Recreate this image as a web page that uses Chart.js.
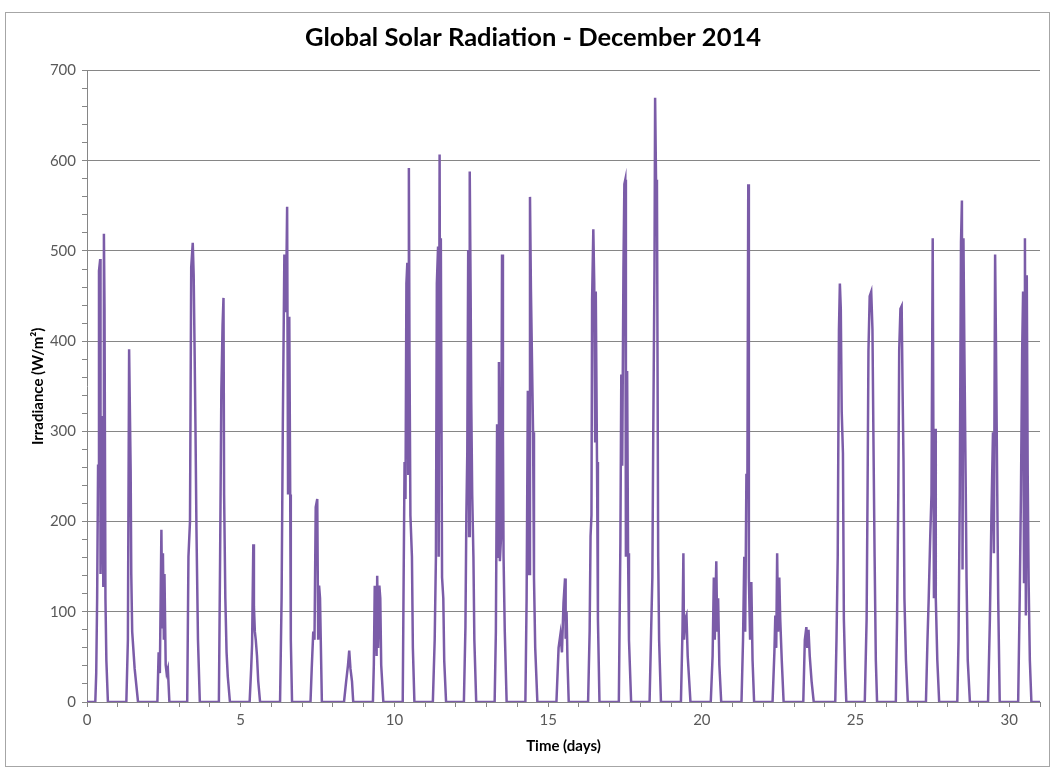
<!DOCTYPE html>
<html>
<head>
<meta charset="utf-8">
<script src="https://cdn.jsdelivr.net/npm/chart.js@4.4.1/dist/chart.umd.min.js"></script>
<style>
  html, body { margin: 0; padding: 0; background: #fff; }
  #wrap { width: 1058px; height: 771px; position: relative; }
</style>
</head>
<body>
<div id="wrap"><canvas id="myChart" width="1058" height="771"></canvas></div>
<script>
// time in days since 1 Dec 2014, one line per day
const times = [
  0,
  0.27, 0.30, 0.33, 0.36, 0.39, 0.43, 0.44, 0.49, 0.53, 0.55, 0.57, 0.60, 0.63, 0.68,
  1.28, 1.33, 1.37, 1.42, 1.44, 1.47, 1.55, 1.66,
  2.29, 2.33, 2.37, 2.42, 2.45, 2.47, 2.50, 2.52, 2.56, 2.59, 2.63, 2.68,
  3.26, 3.30, 3.35, 3.39, 3.44, 3.47, 3.50, 3.53, 3.56, 3.61, 3.67,
  4.29, 4.33, 4.37, 4.41, 4.44, 4.46, 4.50, 4.54, 4.58, 4.65,
  5.29, 5.34, 5.37, 5.41, 5.43, 5.46, 5.49, 5.53, 5.57, 5.63,
  6.28, 6.33, 6.37, 6.42, 6.47, 6.51, 6.54, 6.58, 6.61, 6.63, 6.67,
  7.27, 7.31, 7.36, 7.40, 7.44, 7.49, 7.52, 7.55, 7.58, 7.64,
  8.36, 8.43, 8.49, 8.53, 8.57, 8.62, 8.66,
  9.30, 9.33, 9.36, 9.39, 9.42, 9.44, 9.47, 9.51, 9.54, 9.57, 9.64,
  10.27, 10.30, 10.33, 10.36, 10.39, 10.42, 10.45, 10.47, 10.49, 10.52, 10.57, 10.60, 10.65,
  11.25, 11.31, 11.35, 11.38, 11.42, 11.44, 11.47, 11.49, 11.51, 11.55, 11.59, 11.62, 11.68,
  12.26, 12.31, 12.34, 12.37, 12.40, 12.43, 12.45, 12.48, 12.50, 12.53, 12.57, 12.60, 12.66,
  13.26, 13.30, 13.34, 13.37, 13.40, 13.43, 13.47, 13.50, 13.53, 13.55, 13.59, 13.65,
  14.26, 14.30, 14.34, 14.38, 14.41, 14.44, 14.47, 14.51, 14.54, 14.58, 14.65,
  15.27, 15.34, 15.40, 15.45, 15.50, 15.55, 15.57, 15.60, 15.63, 15.67,
  16.30, 16.35, 16.38, 16.41, 16.43, 16.47, 16.50, 16.53, 16.55, 16.59, 16.62, 16.67,
  17.30, 17.35, 17.38, 17.41, 17.45, 17.48, 17.51, 17.53, 17.57, 17.60, 17.63, 17.70,
  18.30, 18.35, 18.39, 18.42, 18.46, 18.48, 18.51, 18.54, 18.58, 18.61, 18.67,
  19.32, 19.37, 19.40, 19.42, 19.46, 19.50, 19.54, 19.59, 19.63,
  20.29, 20.35, 20.39, 20.42, 20.47, 20.50, 20.53, 20.57, 20.63,
  21.29, 21.34, 21.38, 21.41, 21.45, 21.48, 21.51, 21.53, 21.57, 21.61, 21.65, 21.70,
  22.30, 22.36, 22.39, 22.42, 22.45, 22.48, 22.52, 22.55, 22.60, 22.66,
  23.30, 23.35, 23.40, 23.43, 23.47, 23.51, 23.57, 23.64,
  24.34, 24.38, 24.42, 24.46, 24.49, 24.52, 24.55, 24.59, 24.62, 24.66, 24.70,
  25.30, 25.36, 25.39, 25.42, 25.46, 25.51, 25.55, 25.58, 25.62, 25.66, 25.70,
  26.31, 26.35, 26.39, 26.42, 26.46, 26.50, 26.53, 26.56, 26.59, 26.64, 26.70,
  27.29, 27.34, 27.38, 27.43, 27.47, 27.51, 27.55, 27.59, 27.61, 27.66, 27.72,
  28.31, 28.35, 28.39, 28.43, 28.46, 28.48, 28.51, 28.54, 28.58, 28.61, 28.65, 28.72,
  29.31, 29.37, 29.42, 29.47, 29.50, 29.54, 29.57, 29.61, 29.64, 29.69,
  30.29, 30.34, 30.38, 30.42, 30.45, 30.48, 30.51, 30.54, 30.57, 30.60, 30.63, 30.67, 30.72,
  31
];

// global irradiance, W/m2
const irradiance = [
  0,
  0, 32, 115, 262, 478, 491, 142, 317, 129, 519, 436, 115, 46, 0,
  0, 69, 391, 257, 142, 78, 37, 0,
  0, 55, 32, 191, 83, 165, 69, 142, 41, 32, 37, 0,
  0, 161, 200, 482, 509, 473, 390, 299, 193, 69, 0,
  0, 161, 345, 418, 448, 230, 115, 55, 28, 0,
  0, 37, 64, 175, 106, 78, 69, 51, 23, 0,
  0, 115, 308, 496, 432, 549, 230, 427, 230, 69, 0,
  0, 37, 78, 69, 216, 225, 69, 129, 115, 0,
  0, 23, 41, 57, 37, 23, 0,
  0, 41, 129, 119, 51, 140, 60, 129, 115, 41, 0,
  0, 138, 266, 225, 464, 487, 253, 592, 390, 207, 161, 60, 0,
  0, 69, 161, 464, 505, 161, 607, 299, 514, 138, 115, 46, 0,
  0, 83, 207, 276, 501, 184, 588, 450, 331, 230, 161, 69, 0,
  0, 78, 308, 161, 377, 156, 184, 496, 299, 161, 78, 0,
  0, 115, 345, 142, 560, 459, 390, 299, 138, 60, 0,
  0, 60, 75, 55, 110, 137, 70, 100, 45, 0,
  0, 78, 184, 207, 446, 524, 464, 289, 455, 266, 92, 0,
  0, 175, 363, 262, 482, 574, 579, 161, 367, 165, 69, 0,
  0, 78, 138, 299, 482, 670, 579, 574, 161, 69, 0,
  0, 78, 165, 69, 92, 96, 51, 23, 0,
  0, 51, 138, 69, 156, 78, 115, 41, 0,
  0, 69, 161, 78, 253, 230, 574, 138, 69, 133, 46, 0,
  0, 55, 96, 60, 165, 78, 138, 92, 46, 0,
  0, 69, 83, 60, 80, 51, 23, 0,
  0, 69, 161, 413, 464, 436, 322, 276, 92, 37, 0,
  0, 92, 230, 390, 450, 455, 413, 299, 161, 46, 0,
  0, 92, 230, 390, 436, 439, 345, 266, 115, 46, 0,
  0, 69, 115, 184, 230, 514, 115, 303, 115, 46, 0,
  0, 69, 230, 510, 556, 147, 514, 390, 253, 138, 46, 0,
  0, 92, 207, 299, 165, 496, 390, 230, 115, 0,
  0, 115, 230, 390, 455, 133, 514, 96, 473, 253, 133, 46, 0,
  0
];

const xMajorTicks = [0, 5, 10, 15, 20, 25, 30];
const yMajorTicks = [0, 100, 200, 300, 400, 500, 600, 700];

const FONT = "Lato, 'Open Sans', sans-serif";
const AXIS_GREY = "#868686";

const points = times.map((t, i) => ({ x: t, y: irradiance[i] }));

// outer frame like the Excel chart border
const framePlugin = {
  id: "frame",
  beforeDraw: (chart) => {
    const { ctx } = chart;
    ctx.save();
    ctx.fillStyle = "#ffffff";
    ctx.fillRect(0, 0, chart.width, chart.height);
    ctx.strokeStyle = "#a6a6a6";
    ctx.lineWidth = 1;
    ctx.strokeRect(5.5, 12.5, 1044, 754);
    ctx.restore();
  },
};

const ctx = document.getElementById("myChart").getContext("2d");

new Chart(ctx, {
  type: "line",
  data: {
    datasets: [
      {
        label: "Irradiance",
        data: points,
        borderColor: "#7B5CA8",
        borderWidth: 2.5,
        pointRadius: 0,
        tension: 0,
        fill: false,
      },
    ],
  },
  options: {
    responsive: false,
    animation: false,
    layout: { padding: { left: 26, right: 18, top: 0, bottom: 0 } },
    plugins: {
      legend: { display: false },
      tooltip: { enabled: false },
      title: {
        display: true,
        text: "Global Solar Radiation - December 2014",
        color: "#000",
        font: { family: FONT, size: 25.5, weight: "bold" },
        padding: { top: 22, bottom: 18 },
      },
    },
    scales: {
      x: {
        type: "linear",
        min: 0,
        max: 31,
        z: 1,
        afterFit: (scale) => {
          scale.height = 69;
        },
        ticks: {
          stepSize: 1,
          autoSkip: false,
          maxRotation: 0,
          color: "#595959",
          font: { family: FONT, size: 15 },
          padding: 4,
          callback: (v) => (xMajorTicks.includes(v) ? String(v) : ""),
        },
        grid: {
          drawOnChartArea: false,
          color: AXIS_GREY,
          tickLength: 5,
        },
        border: { color: AXIS_GREY, width: 1 },
        title: {
          display: true,
          text: "Time (days)",
          color: "#000",
          font: { family: FONT, size: 15, weight: "bold" },
          padding: { top: 2, bottom: 16 },
        },
      },
      y: {
        min: 0,
        max: 700,
        afterFit: (scale) => {
          scale.width = 61;
        },
        ticks: {
          stepSize: 20,
          autoSkip: false,
          color: "#595959",
          font: { family: FONT, size: 15 },
          padding: 6,
          callback: (v) => (yMajorTicks.includes(v) ? String(v) : ""),
        },
        grid: {
          color: (c) => (yMajorTicks.includes(c.tick.value) ? AXIS_GREY : "rgba(0,0,0,0)"),
          tickColor: AXIS_GREY,
          tickLength: 5,
        },
        border: { color: AXIS_GREY, width: 1 },
        title: {
          display: true,
          text: "Irradiance (W/m²)",
          color: "#000",
          font: { family: FONT, size: 15, weight: "bold" },
          padding: { top: 3, bottom: 0 },
        },
      },
    },
  },
  plugins: [framePlugin],
});
</script>
</body>
</html>
